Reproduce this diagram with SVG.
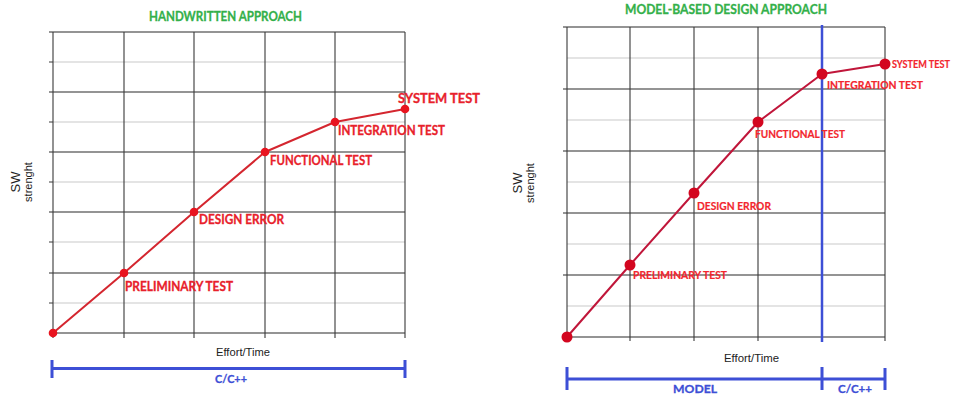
<svg xmlns="http://www.w3.org/2000/svg" width="957" height="398" viewBox="0 0 957 398">
  <style>
    .major { stroke: #2b2b2b; stroke-width: 1.1; fill: none; }
    .minor { stroke: #c9c9c9; stroke-width: 1; fill: none; }
    .vgrid { stroke: #3a3a3a; stroke-width: 1.1; fill: none; }
    .tick { stroke: #3a3a3a; stroke-width: 1; }
    .title { font-family: Lato, "Liberation Sans", sans-serif; font-weight: bold; font-size: 13px; fill: #33b04a; stroke: #33b04a; stroke-width: 0.3; }
    .lbl { font-family: Lato, "Liberation Sans", sans-serif; font-weight: bold; fill: #e8212b; stroke: #e8212b; stroke-width: 0.3; }
    .lbl-l { font-size: 13px; }
    .lbl-r { font-size: 10.5px; fill: #f2262e; stroke: #f2262e; stroke-width: 0.2; }
    .axis { font-family: "Liberation Sans", Arial, sans-serif; font-size: 11px; fill: #222; }
    .ylab { font-family: "Liberation Sans", Arial, sans-serif; fill: #222; }
    .span { stroke: #3d4fd6; stroke-width: 3; fill: none; }
    .spantxt { font-family: Lato, "Liberation Sans", sans-serif; font-weight: bold; font-size: 12px; fill: #3d4fd6; stroke: #3d4fd6; stroke-width: 0.3; }
    .curve-l { stroke: #d4262f; stroke-width: 2; fill: none; stroke-linejoin: round; }
    .dot-l { fill: #e8141f; }
    .curve-r { stroke: #c0163a; stroke-width: 2; fill: none; stroke-linejoin: round; }
    .dot-r { fill: #d3061f; }
  </style>

  <!-- Left chart: handwritten approach -->
  <g id="left-chart">
    <text class="title" x="149" y="20.5" textLength="153" lengthAdjust="spacingAndGlyphs">HANDWRITTEN APPROACH</text>
    <g id="left-grid">
      <path class="minor" d="M53 62H405M53 122H405M53 182H405M53 242H405M53 303H405"/>
      <path class="major" d="M49 32H405M49 92H405M49 152H405M49 212H405M49 273H405M49 333H405"/>
      <path class="tick" stroke="#bbb" d="M49 62H53M49 122H53M49 182H53M49 242H53M49 303H53"/>
      <path class="vgrid" d="M53 32V338M124 32V338M194 32V338M265 32V338M335 32V338M405 32V338"/>
    </g>
    <text class="ylab" font-size="13" transform="translate(20 182) rotate(-90)" text-anchor="middle">SW</text>
    <text class="ylab" font-size="11" transform="translate(32 182) rotate(-90)" text-anchor="middle">strenght</text>
    <text class="axis" x="216" y="356" textLength="54" lengthAdjust="spacingAndGlyphs">Effort/Time</text>
    <g id="left-span">
      <path class="span" d="M52 368.5H405M52 360V378M405 360V378"/>
      <text class="spantxt" x="215" y="383" textLength="32" lengthAdjust="spacingAndGlyphs">C/C++</text>
    </g>
  </g>

  <!-- Left curve and milestones -->
  <g id="left-connectors">
    <polyline class="curve-l" points="53,333 124,273 194,212 265,152 335,122 405,109"/>
  </g>
  <g id="l-start"><circle class="dot-l" cx="53" cy="333" r="4.3"/></g>
  <g id="l-preliminary"><circle class="dot-l" cx="124" cy="273" r="4.3"/>
    <text class="lbl lbl-l" x="125" y="291" textLength="108" lengthAdjust="spacingAndGlyphs">PRELIMINARY TEST</text></g>
  <g id="l-design"><circle class="dot-l" cx="194" cy="212" r="4.3"/>
    <text class="lbl lbl-l" x="199" y="224" textLength="85" lengthAdjust="spacingAndGlyphs">DESIGN ERROR</text></g>
  <g id="l-functional"><circle class="dot-l" cx="265" cy="152" r="4.3"/>
    <text class="lbl lbl-l" x="270" y="165" textLength="102" lengthAdjust="spacingAndGlyphs">FUNCTIONAL TEST</text></g>
  <g id="l-integration"><circle class="dot-l" cx="335" cy="122" r="4.3"/>
    <text class="lbl lbl-l" x="338" y="135" textLength="107" lengthAdjust="spacingAndGlyphs">INTEGRATION TEST</text></g>
  <g id="l-system"><circle class="dot-l" cx="405" cy="109" r="4.3"/>
    <text class="lbl lbl-l" x="398" y="103" textLength="82" lengthAdjust="spacingAndGlyphs">SYSTEM TEST</text></g>

  <!-- Right chart: model-based design approach -->
  <g id="right-chart">
    <text class="title" x="625" y="14" textLength="202" lengthAdjust="spacingAndGlyphs">MODEL-BASED DESIGN APPROACH</text>
    <g id="right-grid">
      <path class="minor" d="M567 58H885M567 120H885M567 182H885M567 244H885M567 306H885"/>
      <path class="major" d="M563 27H885M563 89H885M563 151H885M563 213H885M563 275H885M563 337H885"/>
      <path class="vgrid" d="M567 27V341M630 27V341M694 27V341M758 27V341M885 27V341"/>
    </g>
    <path d="M822 25V342" stroke="#3d4fd6" stroke-width="2.5"/>
    <text class="ylab" font-size="13" transform="translate(522 183) rotate(-90)" text-anchor="middle">SW</text>
    <text class="ylab" font-size="11" transform="translate(534 183) rotate(-90)" text-anchor="middle">strenght</text>
    <text class="axis" x="724" y="361.5" textLength="55" lengthAdjust="spacingAndGlyphs">Effort/Time</text>
    <g id="right-span">
      <path class="span" d="M567 379H885M567 367V390M822 367V390M885 368V390"/>
      <text class="spantxt" x="673" y="393" textLength="44" lengthAdjust="spacingAndGlyphs">MODEL</text>
      <text class="spantxt" x="838" y="393" textLength="34" lengthAdjust="spacingAndGlyphs">C/C++</text>
    </g>
  </g>

  <!-- Right curve and milestones -->
  <g id="right-connectors">
    <polyline class="curve-r" points="567,337 630,265 694,193 758,122 822,74 885,64"/>
  </g>
  <g id="r-start"><circle class="dot-r" cx="567" cy="337" r="5.5"/></g>
  <g id="r-preliminary"><circle class="dot-r" cx="630" cy="265" r="5.5"/>
    <text class="lbl lbl-r" x="633" y="279" textLength="94" lengthAdjust="spacingAndGlyphs">PRELIMINARY TEST</text></g>
  <g id="r-design"><circle class="dot-r" cx="694" cy="193" r="5.5"/>
    <text class="lbl lbl-r" x="697" y="209.5" textLength="74" lengthAdjust="spacingAndGlyphs">DESIGN ERROR</text></g>
  <g id="r-functional"><circle class="dot-r" cx="758" cy="122" r="5.5"/>
    <text class="lbl lbl-r" x="755" y="138" textLength="90" lengthAdjust="spacingAndGlyphs">FUNCTIONAL TEST</text></g>
  <g id="r-integration"><circle class="dot-r" cx="822" cy="74" r="5.5"/>
    <text class="lbl lbl-r" x="827" y="89" textLength="96" lengthAdjust="spacingAndGlyphs">INTEGRATION TEST</text></g>
  <g id="r-system"><circle class="dot-r" cx="885" cy="64" r="5.5"/>
    <text class="lbl lbl-r" x="892" y="68" textLength="58" lengthAdjust="spacingAndGlyphs">SYSTEM TEST</text></g>
</svg>
